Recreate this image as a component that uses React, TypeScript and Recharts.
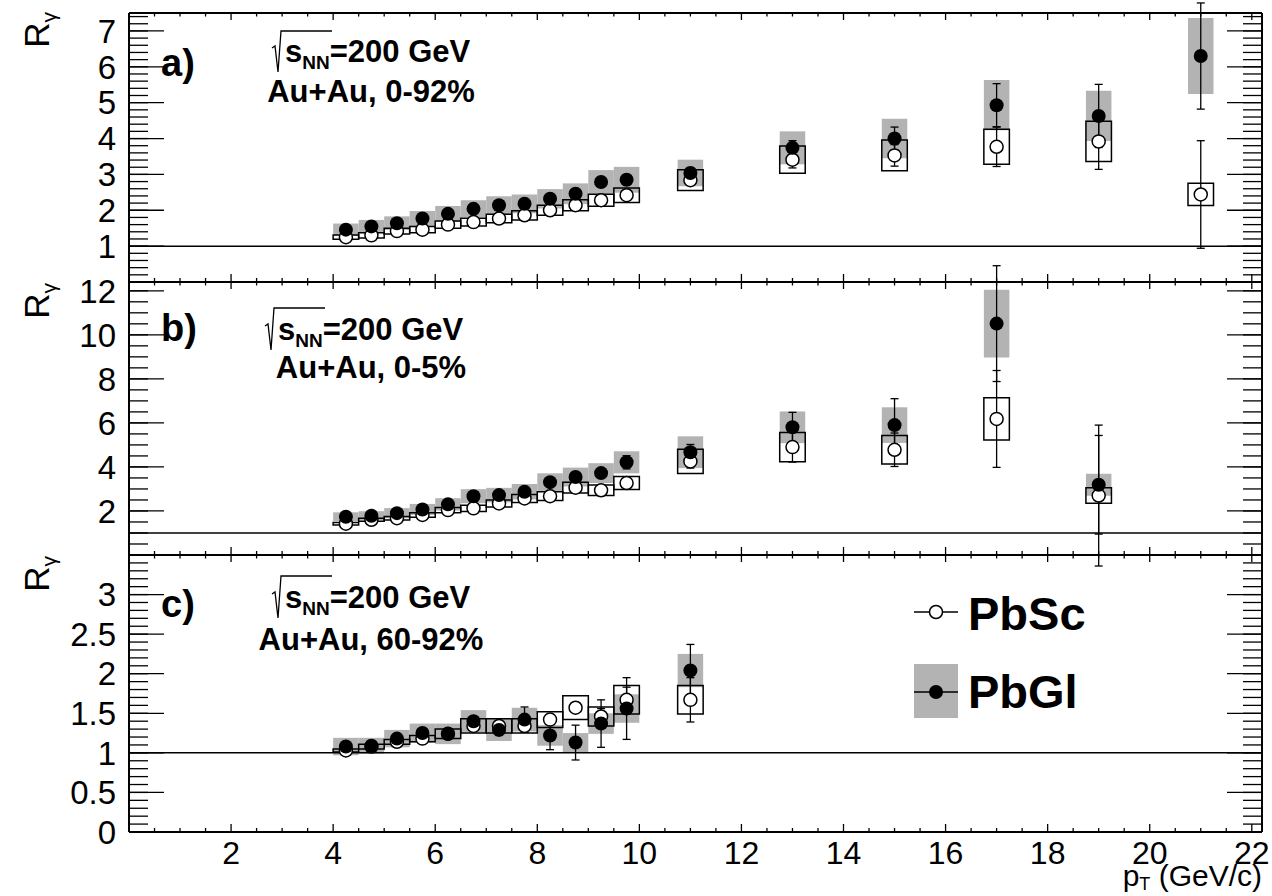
import React from "react";
import {
  ComposedChart,
  Scatter,
  XAxis,
  YAxis,
  ErrorBar,
  ReferenceArea,
  ReferenceLine,
} from "recharts";

type Err = number | [number, number];

const W = 1272;
const H = 896;
const LEFT = 129;
const RIGHT = 1262;
const X_MAX = 22.2;
const HALF_BIN = 0.25;
const FONT = "'Liberation Sans', Arial, Helvetica, sans-serif";
const GREY = "#b3b3b3";

// pT bin centres (GeV/c)
const ptLow = [4.25, 4.75, 5.25, 5.75, 6.25, 6.75, 7.25, 7.75, 8.25, 8.75, 9.25, 9.75];
const ptA = [...ptLow, 11, 13, 15, 17, 19, 21];
const ptB = [...ptLow, 11, 13, 15, 17, 19];
const ptC = [...ptLow, 11];

// a) Au+Au 0-92%
const scA = [1.25, 1.3, 1.42, 1.46, 1.6, 1.67, 1.77, 1.86, 2.0, 2.14, 2.28, 2.42, 2.84, 3.41, 3.53, 3.77, 3.92, 2.44];
const scStatA: Err[] = [0.03, 0.03, 0.04, 0.04, 0.05, 0.05, 0.06, 0.07, 0.08, 0.09, 0.1, 0.11, 0.13, 0.23, 0.3, 0.55, 0.78, 1.5];
const scSysA = [0.06, 0.07, 0.08, 0.09, 0.1, 0.11, 0.12, 0.13, 0.14, 0.15, 0.17, 0.2, 0.29, 0.38, 0.43, 0.49, 0.56, 0.31];
const glA = [1.46, 1.55, 1.64, 1.77, 1.9, 2.04, 2.14, 2.18, 2.32, 2.46, 2.79, 2.85, 3.04, 3.74, 4.0, 4.93, 4.63, 6.3];
const glStatA: Err[] = [0.04, 0.04, 0.05, 0.05, 0.06, 0.07, 0.07, 0.08, 0.09, 0.1, 0.11, 0.13, 0.15, 0.2, 0.32, 0.6, 0.88, 1.48];
const glSysA = [0.17, 0.18, 0.19, 0.21, 0.22, 0.24, 0.25, 0.26, 0.27, 0.29, 0.33, 0.36, 0.37, 0.46, 0.55, 0.7, 0.7, 1.06];

// b) Au+Au 0-5%
const scB = [1.42, 1.6, 1.67, 1.82, 2.04, 2.12, 2.34, 2.57, 2.67, 3.06, 2.94, 3.27, 4.25, 4.9, 4.78, 6.18, 2.7];
const scStatB: Err[] = [0.05, 0.05, 0.06, 0.07, 0.08, 0.09, 0.1, 0.12, 0.13, 0.15, 0.17, 0.2, 0.3, 0.68, 0.76, 2.2, 3.2];
const scSysB = [0.06, 0.07, 0.08, 0.1, 0.12, 0.14, 0.16, 0.18, 0.2, 0.24, 0.24, 0.3, 0.55, 0.66, 0.65, 0.96, 0.35];
const glB = [1.74, 1.78, 1.9, 2.07, 2.3, 2.67, 2.72, 2.87, 3.31, 3.54, 3.72, 4.21, 4.67, 5.8, 5.9, 10.51, 3.19];
const glStatB: Err[] = [0.06, 0.06, 0.07, 0.08, 0.09, 0.11, 0.12, 0.13, 0.15, 0.18, 0.2, 0.3, 0.35, 0.68, 1.2, 2.63, 2.24];
const glSysB = [0.2, 0.21, 0.23, 0.25, 0.28, 0.32, 0.33, 0.35, 0.4, 0.43, 0.45, 0.5, 0.72, 0.72, 0.81, 1.54, 0.5];

// c) Au+Au 60-92%
const scC = [1.03, 1.08, 1.14, 1.18, 1.24, 1.34, 1.34, 1.34, 1.42, 1.57, 1.46, 1.67, 1.67];
const scStatC: Err[] = [0.02, 0.02, 0.03, 0.03, 0.04, 0.05, 0.05, 0.06, 0.06, 0.05, 0.1, 0.16, 0.28];
const scSysC = [0.02, 0.03, 0.03, 0.04, 0.06, 0.09, 0.09, 0.09, 0.1, 0.15, 0.12, 0.18, 0.18];
const glC = [1.08, 1.09, 1.18, 1.25, 1.24, 1.4, 1.29, 1.42, 1.22, 1.13, 1.37, 1.56, 2.04];
const glStatC: Err[] = [0.03, 0.03, 0.04, 0.05, 0.05, 0.06, 0.07, 0.16, 0.18, 0.22, 0.3, 0.39, 0.33];
const glSysC = [0.11, 0.1, 0.11, 0.12, 0.13, 0.14, 0.14, 0.15, 0.13, 0.12, 0.13, 0.18, 0.21];

const xTicks = [2, 4, 6, 8, 10, 12, 14, 16, 18, 20, 22];
const yTicksA = [1, 2, 3, 4, 5, 6, 7];
const yTicksB = [2, 4, 6, 8, 10, 12];
const yTicksC = [0, 0.5, 1, 1.5, 2, 2.5, 3];

function steps(from: number, to: number, step: number) {
  const out: number[] = [];
  for (let i = 0; from + i * step <= to + 1e-9; i++) out.push(Math.round((from + i * step) * 1000) / 1000);
  return out;
}

const TICK_FONT = 33;
const X_TICK_FONT = 32;
const tickLine = { stroke: "#000", strokeWidth: 1.3 };
const frameLine = { stroke: "#000", strokeWidth: 2 };
const tickFont = { fontSize: TICK_FONT, fill: "#000", fontFamily: FONT };
// tick marks only: a tick renderer that draws no text
const noText = () => <g />;

const openDot = (p: any) => <circle cx={p.cx} cy={p.cy} r={6.5} fill="#fff" stroke="#000" strokeWidth={1.5} />;
const fullDot = (p: any) => <circle cx={p.cx} cy={p.cy} r={7} fill="#000" />;
const noDot = () => <g />;

interface PanelProps {
  top: number;
  bottom: number;
  yMax: number;
  yTicks: number[];
  yMinorStep: number;
  pt: number[];
  sc: number[];
  scStat: Err[];
  scSys: number[];
  gl: number[];
  glStat: Err[];
  glSys: number[];
  xLabels?: boolean;
}

function Panel(p: PanelProps) {
  const yMinor = steps(p.yMinorStep, p.yMax, p.yMinorStep);
  const xAll = steps(0.5, X_MAX, 0.5);
  const scRows = p.pt.map((x, i) => ({ x, y: p.sc[i], err: p.scStat[i] }));
  const glRows = p.pt.map((x, i) => ({ x, y: p.gl[i], err: p.glStat[i] }));
  const xDom: [number, number] = [0, X_MAX];
  const yDom: [number, number] = [0, p.yMax];

  // one x tick: inward marks on the bottom and top frame, label under the bottom one
  const xTick = (t: any) => {
    const v = t.payload.value as number;
    const major = xTicks.includes(v);
    const cx = t.x;
    return (
      <g>
        <line x1={cx} x2={cx} y1={p.bottom} y2={p.bottom - (major ? 8 : 4)} {...tickLine} />
        <line x1={cx} x2={cx} y1={p.top} y2={p.top + (major ? 7 : 3.5)} {...tickLine} />
        {p.xLabels && major && (
          <text x={cx} y={p.bottom + 9} dy="0.71em" textAnchor="middle" fontSize={X_TICK_FONT} fontFamily={FONT} fill="#000">
            {v}
          </text>
        )}
      </g>
    );
  };

  return (
    <div style={{ position: "absolute", left: 0, top: 0 }}>
      <ComposedChart width={W} height={H} margin={{ top: p.top, right: W - RIGHT, bottom: H - p.bottom, left: LEFT - 1 }}>
        <XAxis xAxisId="x" dataKey="x" type="number" domain={xDom} allowDataOverflow ticks={xAll} interval={0}
          mirror height={1} tickSize={0} tick={xTick} axisLine={frameLine} tickLine={false} />
        <XAxis xAxisId="xt" orientation="top" type="number" domain={xDom} allowDataOverflow ticks={xTicks} interval={0}
          mirror height={1} tickSize={7} tick={noText} axisLine={frameLine} tickLine={tickLine} />
        <YAxis yAxisId="y" dataKey="y" type="number" domain={yDom} allowDataOverflow ticks={p.yTicks} interval={0}
          mirror width={1} tickSize={35} tick={noText} axisLine={frameLine} tickLine={tickLine} />
        <YAxis yAxisId="ym" type="number" domain={yDom} allowDataOverflow ticks={yMinor} interval={0}
          mirror width={1} tickSize={18} tick={noText} axisLine={false} tickLine={tickLine} />
        <YAxis yAxisId="yl" type="number" domain={yDom} allowDataOverflow ticks={p.yTicks} interval={0}
          width={1} tickSize={0} tickMargin={13} tickLine={false} axisLine={false} tick={tickFont} />
        <YAxis yAxisId="yr" orientation="right" type="number" domain={yDom} allowDataOverflow ticks={p.yTicks} interval={0}
          mirror width={1} tickSize={35} tick={noText} axisLine={frameLine} tickLine={tickLine} />
        <YAxis yAxisId="yrm" orientation="right" type="number" domain={yDom} allowDataOverflow ticks={yMinor} interval={0}
          mirror width={1} tickSize={18} tick={noText} axisLine={false} tickLine={tickLine} />

        <ReferenceLine xAxisId="x" yAxisId="y" y={1} stroke="#000" strokeWidth={1.5} />

        {/* PbGl systematic boxes */}
        {p.pt.map((x, i) => (
          <ReferenceArea key={`gs${i}`} xAxisId="x" yAxisId="y" x1={x - HALF_BIN} x2={x + HALF_BIN}
            y1={p.gl[i] - p.glSys[i]} y2={p.gl[i] + p.glSys[i]} fill={GREY} fillOpacity={1} stroke="none" ifOverflow="visible" />
        ))}
        {/* PbSc systematic boxes */}
        {p.pt.map((x, i) => (
          <ReferenceArea key={`ss${i}`} xAxisId="x" yAxisId="y" x1={x - HALF_BIN} x2={x + HALF_BIN}
            y1={p.sc[i] - p.scSys[i]} y2={p.sc[i] + p.scSys[i]} fill="none" fillOpacity={0} stroke="#000" strokeWidth={1.5} ifOverflow="visible" />
        ))}

        <Scatter xAxisId="x" yAxisId="y" data={glRows} shape={noDot} isAnimationActive={false}>
          <ErrorBar dataKey="err" direction="y" width={4} stroke="#000" strokeWidth={1.3} isAnimationActive={false} />
        </Scatter>
        <Scatter xAxisId="x" yAxisId="y" data={scRows} shape={openDot} isAnimationActive={false}>
          <ErrorBar dataKey="err" direction="y" width={4} stroke="#000" strokeWidth={1.3} isAnimationActive={false} />
        </Scatter>
        <Scatter xAxisId="x" yAxisId="y" data={glRows} shape={fullDot} isAnimationActive={false} />
      </ComposedChart>
    </div>
  );
}

// √s_NN = 200 GeV with a drawn root sign
function Energy({ x, base, over }: { x: number; base: number; over: number }) {
  return (
    <g>
      <path d={`M${x} ${base - 14} L${x + 3} ${base - 16} L${x + 6} ${base + 10} L${x + 9} ${over} L${x + 60} ${over}`}
        fill="none" stroke="#000" strokeWidth={1.3} />
      <text x={x + 13} y={base} fontWeight="bold" fontSize={31}>
        s<tspan fontSize={19} dy={7}>NN</tspan>
        <tspan dy={-7}>=200 GeV</tspan>
      </text>
    </g>
  );
}

function Title({ y }: { y: number }) {
  return (
    <text transform={`translate(49, ${y}) rotate(-90)`} textAnchor="end" fontSize={35}>
      R<tspan fontSize={21} dy={7}>γ</tspan>
    </text>
  );
}

export default function App() {
  return (
    <div style={{ position: "absolute", left: 0, top: 0, width: W, height: H, background: "#fff", fontFamily: FONT }}>
      <Panel top={13} bottom={282} yMax={7.5} yTicks={yTicksA} yMinorStep={0.2}
        pt={ptA} sc={scA} scStat={scStatA} scSys={scSysA} gl={glA} glStat={glStatA} glSys={glSysA} />
      <Panel top={282} bottom={555} yMax={12.4} yTicks={yTicksB} yMinorStep={0.5}
        pt={ptB} sc={scB} scStat={scStatB} scSys={scSysB} gl={glB} glStat={glStatB} glSys={glSysB} />
      <Panel top={555} bottom={832} yMax={3.5} yTicks={yTicksC} yMinorStep={0.1}
        pt={ptC} sc={scC} scStat={scStatC} scSys={scSysC} gl={glC} glStat={glStatC} glSys={glSysC} xLabels />

      <svg width={W} height={H} style={{ position: "absolute", left: 0, top: 0, pointerEvents: "none" }}
        fontFamily={FONT} fill="#000">
        <Title y={12} />
        <Title y={283} />
        <Title y={556} />

        <text x={161} y={76} fontSize={38} fontWeight="bold">a)</text>
        <text x={161} y={341} fontSize={38} fontWeight="bold">b)</text>
        <text x={161} y={617} fontSize={38} fontWeight="bold">c)</text>

        <Energy x={272} base={62} over={31} />
        <text x={371} y={102} fontSize={31} fontWeight="bold" textAnchor="middle">Au+Au, 0-92%</text>
        <Energy x={265} base={340} over={308} />
        <text x={371} y={378} fontSize={31} fontWeight="bold" textAnchor="middle">Au+Au, 0-5%</text>
        <Energy x={272} base={608} over={576} />
        <text x={371} y={650} fontSize={31} fontWeight="bold" textAnchor="middle">Au+Au, 60-92%</text>

        {/* legend */}
        <line x1={914} x2={958} y1={612} y2={612} stroke="#000" strokeWidth={1.3} />
        <circle cx={936} cy={612} r={6.5} fill="#fff" stroke="#000" strokeWidth={1.5} />
        <text x={968} y={630} fontSize={47} fontWeight="bold">PbSc</text>
        <rect x={914} y={664} width={44} height={54} fill={GREY} />
        <line x1={914} x2={958} y1={692} y2={692} stroke="#000" strokeWidth={1.3} />
        <circle cx={936} cy={692} r={7} fill="#000" />
        <text x={968} y={708} fontSize={47} fontWeight="bold">PbGl</text>

        <text x={1262} y={886} fontSize={30} textAnchor="end">
          p<tspan fontSize={18} dy={4}>T</tspan>
          <tspan dy={-4}> (GeV/c)</tspan>
        </text>
      </svg>
    </div>
  );
}
